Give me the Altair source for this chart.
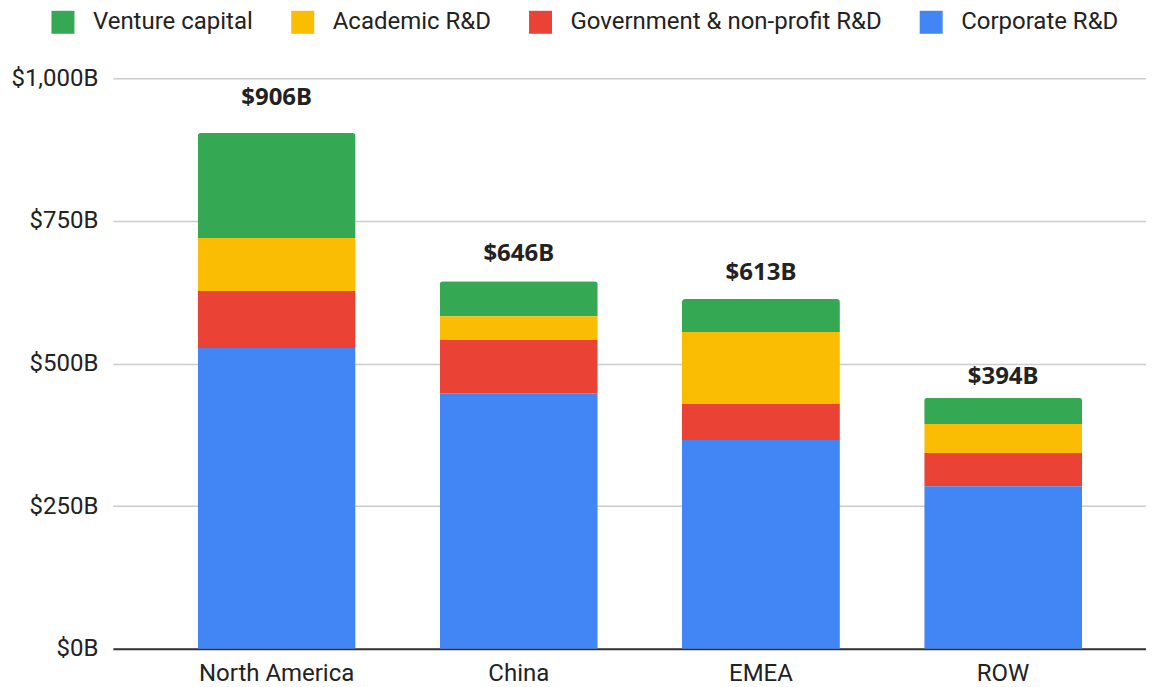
import altair as alt
import pandas as pd

regions = ["North America", "China", "EMEA", "ROW"]
corporate = [527, 448, 366, 285]
government = [100, 93, 63, 58]
academic = [93, 42, 126, 51]
venture = [184, 61, 58, 46]
bar_labels = ["$906B", "$646B", "$613B", "$394B"]

series_names = ["Venture capital", "Academic R&D", "Government & non-profit R&D", "Corporate R&D"]
series_colors = ["#34A853", "#FBBC04", "#EA4335", "#4285F4"]
series_values = [venture, academic, government, corporate]
stack_order = [3, 2, 1, 0]

rows = []
for name, vals, order in zip(series_names, series_values, stack_order):
    for r, v in zip(regions, vals):
        rows.append({"region": r, "series": name, "value": v, "ord": order})
df = pd.DataFrame(rows)

totals = [c + g + a + v for c, g, a, v in zip(corporate, government, academic, venture)]
lab = pd.DataFrame({"region": regions, "total": totals, "label": bar_labels})

x_enc = alt.X(
    "region:N",
    sort=regions,
    title=None,
    scale=alt.Scale(paddingInner=0.348, paddingOuter=0.307, align=0.57),
    axis=alt.Axis(
        labelAngle=0, labelFont="Roboto", labelFontSize=24, labelColor="#222222",
        labelPadding=13, ticks=False, domainColor="#333333", domainWidth=2, grid=False,
    ),
)

bars = alt.Chart(df).mark_bar(cornerRadiusEnd=3).encode(
    x=x_enc,
    y=alt.Y(
        "value:Q",
        stack="zero",
        title=None,
        scale=alt.Scale(domain=[0, 1000], nice=False),
        axis=alt.Axis(
            values=[0, 250, 500, 750, 1000],
            labelExpr="'$' + format(datum.value, ',') + 'B'",
            labelFont="Roboto", labelFontSize=24, labelColor="#222222",
            labelPadding=15, ticks=False, domain=False,
            gridColor="#cccccc", gridWidth=1.5,
        ),
    ),
    color=alt.Color(
        "series:N",
        scale=alt.Scale(domain=series_names, range=series_colors),
        legend=alt.Legend(
            title=None, orient="none", direction="horizontal",
            legendX=-62, legendY=-68, padding=0,
            symbolType="square", symbolSize=529, symbolStrokeWidth=0,
            labelFont="Roboto", labelFontSize=24, labelColor="#222222",
            labelOffset=18, columnPadding=37, labelLimit=400,
        ),
    ),
    order=alt.Order("ord:Q", sort="ascending"),
)

texts = alt.Chart(lab).transform_calculate(
    ly="datum.total * 1.054"
).mark_text(
    font="Noto Sans", fontWeight="bold", fontSize=24, color="#222222",
    baseline="alphabetic", align="center",
).encode(
    x=alt.X("region:N", sort=regions),
    y=alt.Y("ly:Q"),
    text="label:N",
)

chart = alt.layer(bars, texts).properties(
    width=1034, height=571,
    padding={"left": 2, "top": 2, "right": 0, "bottom": 0},
).configure_view(stroke=None)

chart.save("out.html", embed_options={"renderer": "svg", "actions": False})
